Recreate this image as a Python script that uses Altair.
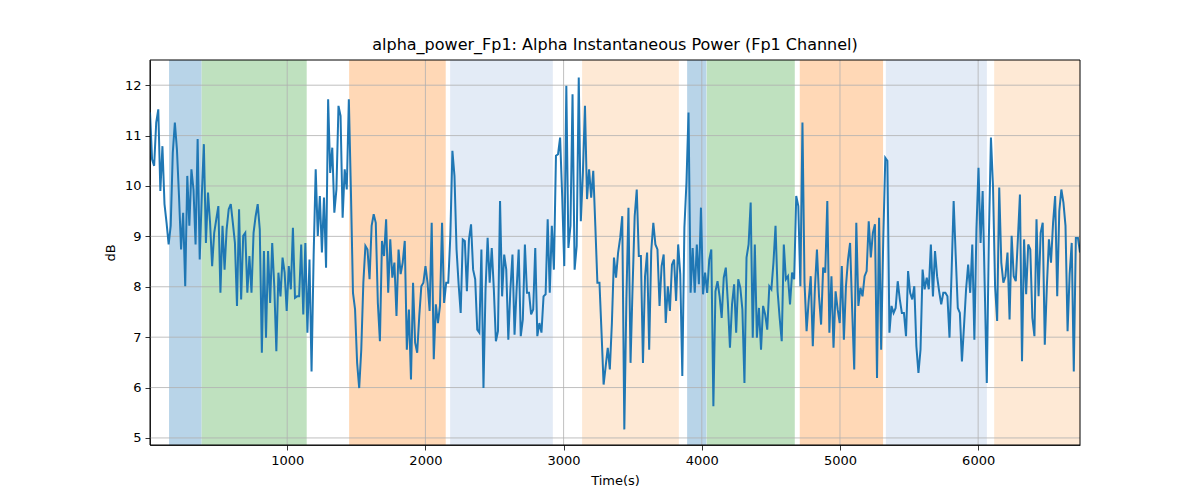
import altair as alt
import pandas as pd

# Alpha instantaneous power on Fp1 (dB), one value per analysis window
alpha_db_part1 = [
    11.46, 10.53, 10.40, 11.26, 11.52, 9.90, 10.79, 9.64, 9.27, 8.84, 9.21, 10.66, 11.26, 10.73,
    9.80, 8.74, 9.47, 8.01, 10.20, 9.21, 10.33, 9.93, 8.84, 10.93, 8.54, 9.80, 10.83, 8.87,
    9.87, 9.27, 8.41, 9.07, 9.34, 9.60, 7.88, 9.21, 8.34, 9.14, 9.54, 9.64, 9.27, 8.87, 7.62,
    9.54, 7.75, 9.01, 9.07, 7.88, 8.61, 7.88, 9.07, 9.40, 9.64, 9.14, 6.69, 8.71, 6.99, 8.71,
    7.68, 8.87, 8.01, 6.72, 8.28, 7.81, 8.58, 8.28, 7.52, 8.41, 7.95, 9.17, 7.78, 7.81, 7.81,
    8.84, 7.45, 8.87, 7.09, 8.54, 6.32, 8.61, 10.33, 9.01, 9.80, 8.68, 9.77, 8.38, 11.72,
    10.26, 10.76, 9.47, 9.93, 11.59, 11.39, 9.37, 10.33, 9.93, 11.72, 9.90, 7.88, 7.55, 6.49,
    5.99, 6.75, 8.08, 8.81, 8.74, 8.15, 9.21, 9.44, 9.27, 7.68, 6.92, 8.91, 8.61, 9.34, 7.88,
    8.94, 8.18, 8.48, 7.42, 8.74, 8.25, 8.48, 8.91, 6.75, 7.55, 6.16, 8.08, 6.89, 6.69, 7.42,
    8.01, 8.08, 8.41, 8.08, 7.52, 9.27, 6.56, 7.65, 7.28, 7.62, 9.27, 7.68, 8.08, 8.08, 9.01,
    10.70, 10.20, 8.74, 8.05, 7.48,
]
alpha_db_part2 = [
    8.94, 8.91, 7.91, 8.94, 9.24, 8.34, 8.15, 7.15, 7.09, 8.74, 5.99, 7.95, 8.97, 8.08, 8.77,
    7.95, 6.92, 7.12, 9.70, 7.81, 8.64, 8.34, 6.95, 7.95, 8.64, 7.05, 7.95, 8.74, 7.02, 7.35,
    8.84, 7.88, 7.88, 7.45, 7.55, 8.77, 7.02, 7.28, 7.09, 7.81, 7.85, 9.34, 7.88, 9.21, 8.34,
    10.60, 10.63, 10.96, 9.80, 8.41, 11.99, 8.77, 9.21, 11.82, 8.34, 8.81, 12.15, 9.30, 10.26,
    11.59, 9.74, 10.33, 9.77, 10.30, 9.21, 8.08, 8.08, 7.09, 6.06, 6.42, 6.79, 6.36, 7.28,
    8.58, 8.18, 8.68, 8.97, 9.40, 5.17, 7.75, 9.57, 6.49, 8.01, 9.40, 9.93, 8.61, 8.61, 6.49,
    8.21, 8.68, 6.75, 8.71, 9.27, 8.84, 8.74, 7.62, 8.41, 8.64, 7.28, 8.01, 7.52, 8.44, 8.54,
    7.72, 8.84, 8.25, 6.23, 9.17, 10.07, 11.46, 7.88, 8.77, 7.88, 8.84, 8.05, 9.57, 7.85, 8.28,
    7.88, 8.54, 8.74, 5.63, 7.91, 8.11, 7.81, 7.38, 8.18, 8.38, 7.68, 6.79, 7.65, 8.05, 7.09,
    8.15, 7.98, 7.55, 6.09, 8.58, 8.84, 9.67, 6.99, 8.84, 6.99, 7.58, 6.75, 7.62, 7.45, 7.15,
    8.01,
]
alpha_db_part3 = [
    7.95, 8.48, 9.21, 7.91, 7.38, 6.92, 8.84, 8.15, 8.21, 7.65, 8.28, 8.15, 9.80, 9.60, 8.01,
    11.26, 8.08, 7.12, 7.72, 8.21, 6.82, 7.95, 8.74, 7.81, 7.25, 8.38, 8.28, 9.70, 7.09, 8.21,
    6.79, 7.91, 7.55, 7.28, 8.41, 6.95, 8.01, 8.54, 8.87, 7.55, 6.36, 9.27, 7.62, 7.98, 7.81,
    8.21, 8.31, 9.30, 8.58, 9.07, 9.24, 6.19, 9.37, 6.75, 8.91, 10.56, 10.50, 7.09, 7.62, 7.48,
    7.58, 8.11, 7.75, 7.48, 7.48, 7.02, 8.31, 7.88, 7.75, 8.01, 6.82, 6.29, 6.75, 8.34, 7.95,
    8.18, 7.95, 8.84, 7.81, 8.71, 8.21, 7.91, 7.65, 7.88, 7.88, 7.81, 6.99, 8.28, 9.70, 8.61,
    7.58, 7.48, 6.52, 7.22, 7.95, 8.44, 7.88, 8.84, 6.95, 9.14, 10.36, 8.87, 9.90, 8.01, 6.09,
    8.97, 10.96, 10.00, 8.01, 7.32, 9.97, 8.48, 8.08, 8.21, 8.68, 7.35, 9.01, 8.21, 8.11, 8.94,
    9.83, 6.52, 8.94, 7.85, 8.84, 8.74, 7.38, 7.02, 9.34, 7.81, 9.07, 9.27, 6.85, 8.01, 8.94,
    8.48, 9.27, 9.80, 7.81, 9.50, 9.93, 9.67, 9.21, 7.12, 8.25, 8.87, 6.32, 8.97, 8.97, 8.68,
]
T_START, T_END = 7, 6737  # first and last window time (s)
Y_MIN, Y_MAX = 4.86, 12.5

# Annotated segments (s)
span_start = [145, 381, 1448, 2179, 3134, 3894, 4036, 4709, 5332, 6116]
span_end = [381, 1141, 2147, 2922, 3834, 4034, 4673, 5312, 6063, 6737]
span_stage = ["A", "B", "C", "D", "E", "A", "B", "C", "D", "E"]
stage_names = ["A", "B", "C", "D", "E"]
stage_colors = ["#b8d4e8", "#bfe1bf", "#ffd8b6", "#e3ebf6", "#fee9d5"]

x_ticks = [1000, 2000, 3000, 4000, 5000, 6000]
y_ticks = [5, 6, 7, 8, 9, 10, 11, 12]

alpha_db = alpha_db_part1 + alpha_db_part2 + alpha_db_part3
n = len(alpha_db)
step = (T_END - T_START) / (n - 1)
line_df = pd.DataFrame({"t": [T_START + i * step for i in range(n)], "db": alpha_db})
span_df = pd.DataFrame({"start": span_start, "end": span_end, "stage": span_stage})
xgrid_df = pd.DataFrame({"t": x_ticks})
ygrid_df = pd.DataFrame({"db": y_ticks})
frame_df = pd.DataFrame({"t0": [T_START], "t1": [T_END], "lo": [Y_MIN], "hi": [Y_MAX]})

font = "DejaVu Sans"
xscale = alt.Scale(domain=[T_START, T_END], nice=False, zero=False)
yscale = alt.Scale(domain=[Y_MIN, Y_MAX], nice=False, zero=False)
xaxis = alt.Axis(values=x_ticks, format="d", grid=False)
yaxis = alt.Axis(values=y_ticks, format="d", grid=False)
grid_color = "#b0b0b0"

spans = alt.Chart(span_df).mark_rect(opacity=1).encode(
    x=alt.X("start:Q", scale=xscale, title="Time(s)", axis=xaxis),
    x2="end:Q",
    color=alt.Color("stage:N", scale=alt.Scale(domain=stage_names, range=stage_colors), legend=None),
)

xgrid = alt.Chart(xgrid_df).mark_rule(color=grid_color, strokeWidth=0.8).encode(
    x=alt.X("t:Q", scale=xscale, title="Time(s)", axis=xaxis)
)

ygrid = alt.Chart(ygrid_df).mark_rule(color=grid_color, strokeWidth=0.8).encode(
    y=alt.Y("db:Q", scale=yscale, title="dB", axis=yaxis)
)

line = alt.Chart(line_df).mark_line(color="#1f77b4", strokeWidth=2, clip=True).encode(
    x=alt.X("t:Q", scale=xscale, title="Time(s)", axis=xaxis),
    y=alt.Y("db:Q", scale=yscale, title="dB", axis=yaxis),
)

# axes frame (spines) on top of the shaded spans
frame = alt.Chart(frame_df).mark_rect(filled=False, stroke="black", strokeWidth=1).encode(
    x=alt.X("t0:Q", scale=xscale, title="Time(s)", axis=xaxis),
    x2="t1:Q",
    y=alt.Y("lo:Q", scale=yscale, title="dB", axis=yaxis),
    y2="hi:Q",
)

chart = alt.layer(spans, xgrid, ygrid, line, frame).properties(
    width=930,
    height=385,
    autosize="none",
    padding={"left": 142, "top": 52, "right": 112, "bottom": 47},
    title=alt.TitleParams(
        "alpha_power_Fp1: Alpha Instantaneous Power (Fp1 Channel)",
        font=font, fontSize=16, fontWeight="normal", color="black",
        anchor="middle", offset=7,
    ),
).configure_axis(
    labelFont=font, labelFontSize=13, labelColor="black",
    titleFont=font, titleFontSize=13, titleFontWeight="normal", titleColor="black",
    tickColor="black", tickSize=5, tickWidth=0.8,
    domainColor="black", domainWidth=0.8, labelPadding=4,
).configure_axisX(titlePadding=7).configure_axisY(titlePadding=7).configure_view(
    stroke=None
)

chart.save("out.html", embed_options={"renderer": "svg", "actions": False})
